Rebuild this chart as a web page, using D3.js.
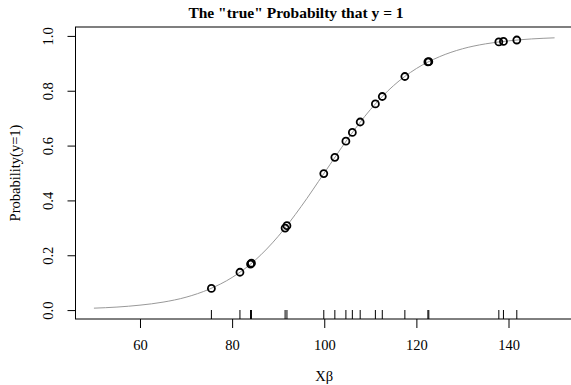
<!DOCTYPE html>
<html>
<head>
<meta charset="utf-8">
<script src="https://cdn.jsdelivr.net/npm/d3@7"></script>
<style>
   body { margin: 0; background: #fff; }
   svg text { font-family: "Liberation Serif", "DejaVu Serif", serif; fill: #000; }
</style>
</head>
<body>
<div id="chart"></div>
<script>
// Curve every 5 units of Xβ
var curveX = [50, 55, 60, 65, 70, 75, 80, 85, 90, 95, 100, 105, 110, 115, 120, 125, 130, 135, 140, 145, 150];
var curveP = [0.007, 0.011, 0.018, 0.029, 0.047, 0.076, 0.119, 0.182, 0.269, 0.378, 0.5, 0.622, 0.731, 0.818, 0.881, 0.924, 0.953, 0.971, 0.982, 0.989, 0.993];

// Observed points (also used for the rug)
var pointX = [75.5, 81.7, 84.0, 84.2, 91.5, 91.9, 99.9, 102.3, 104.7, 106.1, 107.8, 111.1, 112.6, 117.5, 122.5, 122.7, 137.9, 138.9, 141.8];
var pointP = [0.079, 0.138, 0.168, 0.171, 0.299, 0.308, 0.498, 0.557, 0.616, 0.648, 0.686, 0.752, 0.779, 0.852, 0.905, 0.906, 0.978, 0.980, 0.985];

var xTicks = [60, 80, 100, 120, 140];
var yTicks = [0.0, 0.2, 0.4, 0.6, 0.8, 1.0];

var width = 571,
   height = 385,
   margin = { top: 27, right: -2, bottom: 66, left: 75.5 };

var svg = d3.select("#chart")
   .append("svg")
   .attr("width", width)
   .attr("height", height);

var plotW = width - margin.left - margin.right,
   plotH = height - margin.top - margin.bottom;

// R style scales: 4% padding around the data range
var x = d3.scaleLinear()
   .domain([46, 154])
   .range([margin.left, margin.left + plotW]);

var y = d3.scaleLinear()
   .domain([0.007 - 0.0395, 0.993 + 0.0395])
   .range([margin.top + plotH, margin.top]);

// X axis
var xAxis = svg.append("g")
   .attr("transform", "translate(0," + (margin.top + plotH) + ")")
   .call(d3.axisBottom(x).tickValues(xTicks).tickSize(9).tickPadding(12).tickFormat(d3.format("d")));
xAxis.select(".domain").remove();
xAxis.selectAll("line").attr("stroke", "#000");
xAxis.selectAll("text").style("font-size", "14.5px").style("font-family", "Liberation Serif");

// Y axis, labels rotated like R's default
var yAxis = svg.append("g")
   .attr("transform", "translate(" + margin.left + ",0)")
   .call(d3.axisLeft(y).tickValues(yTicks).tickSize(8).tickFormat(d3.format(".1f")));
yAxis.select(".domain").remove();
yAxis.selectAll("line").attr("stroke", "#000");
yAxis.selectAll("text")
   .attr("x", 0).attr("dy", 0)
   .attr("transform", "translate(-23,0) rotate(-90)")
   .style("text-anchor", "middle")
   .style("font-size", "14.5px")
   .style("font-family", "Liberation Serif");

// Box
svg.append("rect")
   .attr("x", margin.left)
   .attr("y", margin.top)
   .attr("width", plotW)
   .attr("height", plotH)
   .attr("fill", "none")
   .attr("stroke", "#000")
   .attr("stroke-width", 1);

// Curve
var line = d3.line()
   .x(function (d) { return x(d[0]); })
   .y(function (d) { return y(d[1]); })
   .curve(d3.curveMonotoneX);

svg.append("path")
   .datum(curveX.map(function (d, i) { return [d, curveP[i]]; }))
   .attr("d", line)
   .attr("fill", "none")
   .attr("stroke", "#999")
   .attr("stroke-width", 1);

// Points
svg.selectAll(".pt")
   .data(pointX)
   .enter()
   .append("circle")
   .attr("class", "pt")
   .attr("cx", function (d) { return x(d); })
   .attr("cy", function (d, i) { return y(pointP[i]); })
   .attr("r", 3.5)
   .attr("fill", "none")
   .attr("stroke", "#000")
   .attr("stroke-width", 1.8);

// Rug
svg.selectAll(".rug")
   .data(pointX)
   .enter()
   .append("line")
   .attr("class", "rug")
   .attr("x1", function (d) { return x(d); })
   .attr("x2", function (d) { return x(d); })
   .attr("y1", margin.top + plotH)
   .attr("y2", margin.top + plotH - 9)
   .attr("stroke", "#000")
   .attr("stroke-width", 1);

// Titles
svg.append("text")
   .attr("x", 296)
   .attr("y", 18)
   .attr("text-anchor", "middle")
   .style("font-size", "15.5px")
   .style("font-weight", "bold")
   .text("The \"true\" Probabilty that y = 1");

svg.append("text")
   .attr("x", x(100))
   .attr("y", 381)
   .attr("text-anchor", "middle")
   .style("font-size", "14.5px")
   .text("Xβ");

svg.append("text")
   .attr("transform", "translate(20," + (margin.top + plotH / 2) + ") rotate(-90)")
   .attr("text-anchor", "middle")
   .style("font-size", "14.5px")
   .text("Probability(y=1)");
</script>
</body>
</html>
